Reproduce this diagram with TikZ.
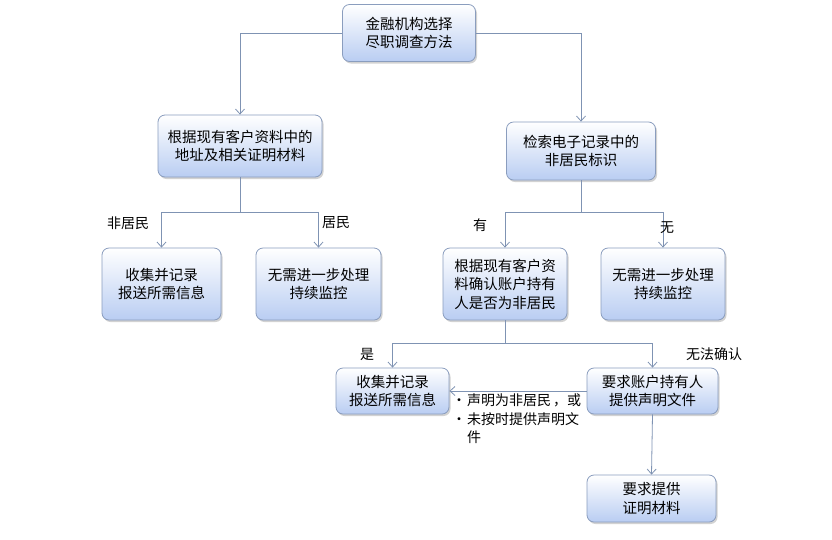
\documentclass[tikz,border=0pt]{standalone}
\usepackage{fontspec}
\setmainfont{Noto Sans CJK SC}
\usetikzlibrary{shadows,arrows.meta}
\definecolor{boxborder}{HTML}{8A9DBE}
\definecolor{boxbot}{HTML}{B9CDF2}
\definecolor{linec}{HTML}{7F93B3}
\tikzset{
  fbox/.style={draw=boxborder, line width=0.8pt, rounded corners=7pt, top color=white, bottom color=boxbot,
    drop shadow={shadow xshift=1.5pt, shadow yshift=-2pt, opacity=0.35},
    align=center, font=\fontsize{14.5}{18.5}\selectfont, inner sep=0pt, text=black},
  conn/.style={draw=linec, line width=0.8pt},
  arr/.style={conn, -{Straight Barb[length=5pt,width=9pt]}},
  lbl/.style={font=\fontsize{14}{18.5}\selectfont, text=black, inner sep=0pt},
}
\begin{document}
\begin{tikzpicture}[x=1pt,y=-1pt]
\useasboundingbox[fill=white] (0,0) rectangle (832,539);
\node[fbox, minimum width=133pt, minimum height=57pt] (top) at (409,33) {金融机构选择\\尽职调查方法};
\node[fbox, minimum width=164pt, minimum height=62pt] (L) at (240,146) {根据现有客户资料中的\\地址及相关证明材料};
\node[fbox, minimum width=149pt, minimum height=58pt] (R) at (581,151) {检索电子记录中的\\非居民标识};
\node[fbox, minimum width=119pt, minimum height=72pt] (a1) at (161.5,284) {收集并记录\\报送所需信息};
\node[fbox, minimum width=125pt, minimum height=72pt] (a2) at (318.5,284) {无需进一步处理\\持续监控};
\node[fbox, minimum width=124pt, minimum height=72pt] (a3) at (505,284) {根据现有客户资\\料确认账户持有\\人是否为非居民};
\node[fbox, minimum width=124pt, minimum height=72pt] (a4) at (663,284) {无需进一步处理\\持续监控};
\node[fbox, minimum width=113pt, minimum height=46pt] (b1) at (392.5,391) {收集并记录\\报送所需信息};
\node[fbox, minimum width=131pt, minimum height=46pt] (b2) at (652.5,391) {要求账户持有人\\提供声明文件};
\node[fbox, minimum width=129pt, minimum height=47pt] (c1) at (651.5,498.5) {要求提供\\证明材料};

\coordinate (jl) at (240,212);
\coordinate (jr) at (581,212);
\coordinate (j3) at (505,343);

\draw[arr] (top.west) -| (L.north);
\draw[arr] (top.east) -| (R.north);
\draw[conn] (L.south) -- (jl);
\draw[arr] (jl) -| (a1.north);
\draw[arr] (jl) -| (a2.north);
\draw[conn] (R.south) -- (jr);
\draw[arr] (jr) -| (a3.north);
\draw[arr] (jr) -| (a4.north);
\draw[conn] (a3.south) -- (j3);
\draw[arr] (j3) -| (b1.north);
\draw[arr] (j3) -| (b2.north);
\draw[arr] (b2.west) -- (b1.east);
\draw[arr] (b2.south) -- (c1.north);

\node[lbl] (t1) at (128,223) {非居民};
\node[lbl] (t2) at (336,223) {居民};
\node[lbl] (t3) at (480,225) {有};
\node[lbl] (t4) at (667,228) {无};
\node[lbl] (t5) at (367,354) {是};
\node[lbl] (t6) at (714,354) {无法确认};
\node[lbl, anchor=north west, align=left] (t7) at (452,394) {%
\makebox[15pt][l]{•}声明为非居民\hspace{2pt}，或\\
\makebox[15pt][l]{•}未按时提供声明文\\
\hspace*{15pt}件};
\end{tikzpicture}
\end{document}
